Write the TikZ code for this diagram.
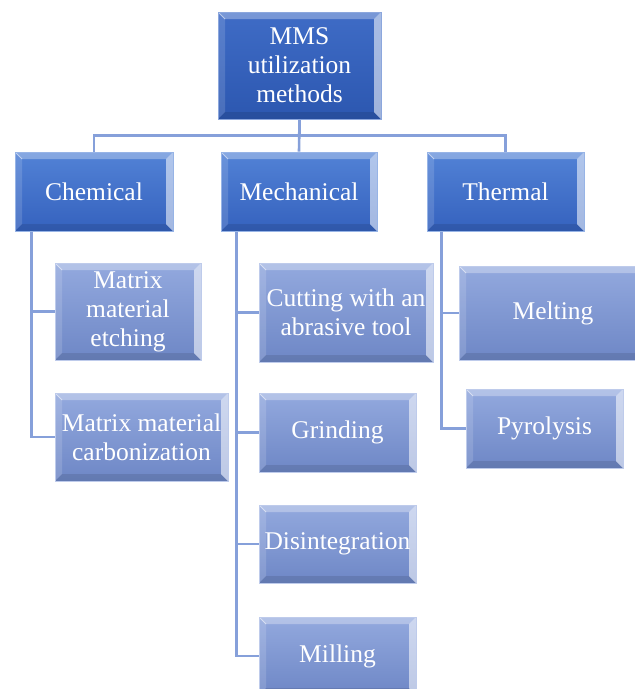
\documentclass[tikz,border=0pt]{standalone}
\usepackage{fontspec}
\setmainfont{Liberation Serif}
\usetikzlibrary{backgrounds}
\definecolor{rootTop}{HTML}{3F6CC6}
\definecolor{rootBot}{HTML}{2C57B0}
\definecolor{catTop}{HTML}{5282D6}
\definecolor{catBot}{HTML}{3562BE}
\definecolor{leafTop}{HTML}{93A9DE}
\definecolor{leafBot}{HTML}{6E87C6}
\definecolor{wire}{HTML}{86A0DA}
\def\bw{7pt}
\tikzset{
  bevelbox/.style={text=white, align=center, inner sep=0pt,
    font=\fontsize{25.5}{29}\selectfont,
    path picture={
      \coordinate (q1) at (path picture bounding box.north west);
      \coordinate (q2) at (path picture bounding box.north east);
      \coordinate (q3) at (path picture bounding box.south east);
      \coordinate (q4) at (path picture bounding box.south west);
      \fill[white,opacity=.30] (q1) -- (q2) -- ([shift={(-\bw,-\bw)}]q2) -- ([shift={(\bw,-\bw)}]q1) -- cycle;
      \fill[white,opacity=.14] (q1) -- ([shift={(\bw,-\bw)}]q1) -- ([shift={(\bw,\bw)}]q4) -- (q4) -- cycle;
      \fill[black,opacity=.10] (q4) -- ([shift={(\bw,\bw)}]q4) -- ([shift={(-\bw,\bw)}]q3) -- (q3) -- cycle;
      \fill[white,opacity=.55] (q2) -- (q3) -- ([shift={(-\bw,\bw)}]q3) -- ([shift={(-\bw,-\bw)}]q2) -- cycle;
      \draw[white,opacity=.5,line width=1pt] (q1) -- ([shift={(\bw,-\bw)}]q1);
    }},
  rootbox/.style={bevelbox, top color=rootTop, bottom color=rootBot, draw=rootTop!60!white, line width=.8pt},
  catbox/.style={bevelbox, top color=catTop, bottom color=catBot, draw=catTop!60!white, line width=.8pt},
  leafbox/.style={bevelbox, top color=leafTop, bottom color=leafBot, draw=leafTop!60!white, line width=.8pt},
  wireline/.style={draw=wire, line width=2.6pt},
}
\begin{document}
\begin{tikzpicture}[x=1pt,y=-1pt]
\useasboundingbox (0,0) rectangle (635,689);
\node[rootbox, minimum width=163pt, minimum height=107pt] (root) at (299.5,65.5) {MMS\\utilization\\methods};
\node[catbox, minimum width=158pt, minimum height=79pt] (chem) at (94,191.5) {Chemical};
\node[catbox, minimum width=156pt, minimum height=79pt] (mech) at (299,191.5) {Mechanical};
\node[catbox, minimum width=157pt, minimum height=79pt] (therm) at (505.5,191.5) {Thermal};
\node[leafbox, minimum width=146pt, minimum height=97pt] (etch) at (128,311.5) {Matrix\\material\\etching};
\node[leafbox, minimum width=173pt, minimum height=88pt] (carb) at (141.5,437) {Matrix material\\carbonization};
\node[leafbox, minimum width=174pt, minimum height=99pt] (cut) at (346,312.5) {Cutting with an\\abrasive tool};
\node[leafbox, minimum width=157pt, minimum height=79pt] (grind) at (337.5,432.5) {Grinding};
\node[leafbox, minimum width=157pt, minimum height=78pt] (disint) at (337.5,544) {Disintegration};
\node[leafbox, minimum width=157pt, minimum height=78pt] (mill) at (337.5,656) {Milling};
\node[leafbox, minimum width=188pt, minimum height=94pt] (melt) at (553,313) {Melting};
\node[leafbox, minimum width=157pt, minimum height=79pt] (pyro) at (544.5,428.5) {Pyrolysis};
\begin{pgfonlayer}{background}
\fill[white] (0,0) rectangle (635,689);
\draw[wireline] (root.south) -- ([yshift=-16pt]root.south) -| (chem.north);
\draw[wireline] ([yshift=-16pt]root.south) -| (therm.north);
\draw[wireline] (root.south) -- (mech.north);
\draw[wireline] ([xshift=17pt]chem.south west) |- (etch.west);
\draw[wireline] ([xshift=17pt]chem.south west) |- (carb.west);
\draw[wireline] ([xshift=16pt]mech.south west) |- (cut.west);
\draw[wireline] ([xshift=16pt]mech.south west) |- (grind.west);
\draw[wireline] ([xshift=16pt]mech.south west) |- (disint.west);
\draw[wireline] ([xshift=16pt]mech.south west) |- (mill.west);
\draw[wireline] ([xshift=15pt]therm.south west) |- (melt.west);
\draw[wireline] ([xshift=15pt]therm.south west) |- (pyro.west);
\end{pgfonlayer}
\end{tikzpicture}
\end{document}
